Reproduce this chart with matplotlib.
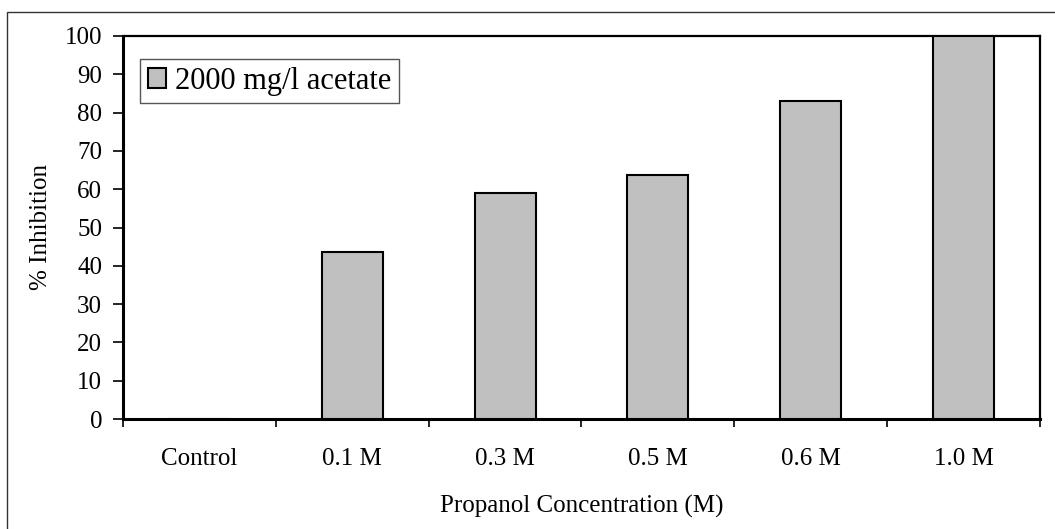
import numpy as np
import matplotlib
matplotlib.use("Agg")
import matplotlib.pyplot as plt
from matplotlib.patches import Rectangle

# data
categories = ['Control', '0.1 M', '0.3 M', '0.5 M', '0.6 M', '1.0 M']
inhibition = [0, 43.5, 59, 63.8, 83, 100]
series_name = '2000 mg/l acetate'

plt.rcParams['font.family'] = ['Liberation Serif', 'DejaVu Serif']

W, H = 1055, 529
fig = plt.figure(figsize=(W / 100, H / 100), dpi=100)
ax = fig.add_axes([123 / W, 1 - 419 / H, (1040 - 123) / W, (419 - 36) / H])

# outer chart frame
fig.patches.append(Rectangle((7 / W, -0.1), 1.2, 1 - 12 / H + 0.1,
                             transform=fig.transFigure, fill=False,
                             edgecolor='#333333', linewidth=1.0))

x = np.arange(len(categories))
ax.bar(x, inhibition, width=0.4, color='#c0c0c0', edgecolor='black',
       linewidth=1.5, label=series_name, zorder=3)

ax.set_xlim(-0.5, len(categories) - 0.5)
ax.set_ylim(0, 100)
ax.set_yticks(np.arange(0, 101, 10))

# ticks at category boundaries, labels at the centres
ax.set_xticks(np.arange(-0.5, len(categories), 1.0))
ax.set_xticklabels([])
ax.set_xticks(x, minor=True)
ax.set_xticklabels(categories, minor=True)
ax.tick_params(axis='x', which='major', direction='out', length=6, width=1.2)
ax.tick_params(axis='x', which='minor', length=0, pad=21, labelsize=18)
ax.tick_params(axis='y', direction='out', length=7, width=1.2, pad=8, labelsize=18)

for side in ['left', 'bottom']:
    ax.spines[side].set_linewidth(2.2)
for side in ['top', 'right']:
    ax.spines[side].set_linewidth(1.6)

ax.set_xlabel('Propanol Concentration (M)', fontsize=18, labelpad=18)
ax.set_ylabel('% Inhibition', fontsize=18, labelpad=9)

leg = ax.legend(loc='upper left', bbox_to_anchor=(0.0185, 0.94),
                borderaxespad=0, fontsize=22, fancybox=False, framealpha=1,
                edgecolor='#555555', handlelength=0.6, handleheight=0.6,
                handletextpad=0.3, borderpad=0.25)
leg.get_frame().set_linewidth(1.0)

fig.savefig('out.png', dpi=100)
